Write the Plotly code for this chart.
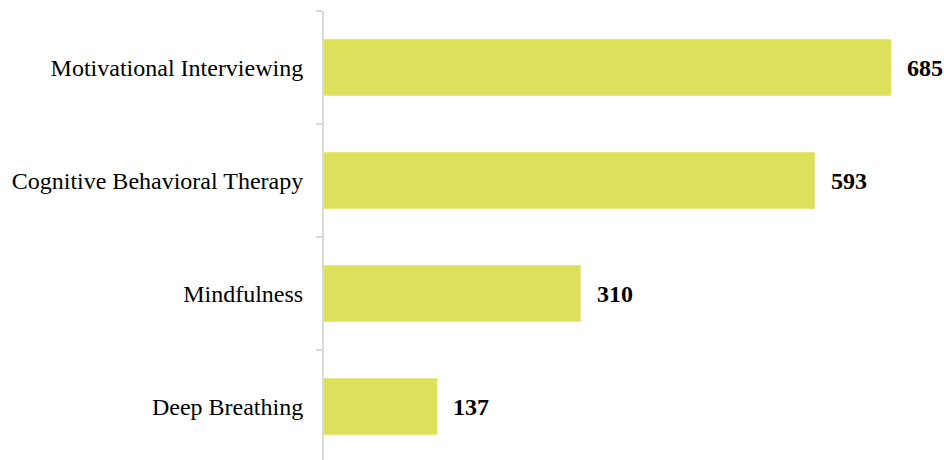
import plotly.graph_objects as go

categories = ["Motivational Interviewing", "Cognitive Behavioral Therapy", "Mindfulness", "Deep Breathing"]
values = [685, 593, 310, 137]

fig = go.Figure()
fig.add_trace(go.Bar(
    y=categories, x=values, orientation="h",
    marker=dict(color="#DCE05B", line=dict(width=0)),
    width=0.5,
))
for c, v in zip(categories, values):
    fig.add_annotation(x=v, y=c, text=f"<b>{v}</b>", showarrow=False,
                       xanchor="left", xshift=14,
                       font=dict(family="Liberation Serif", size=24, color="#000"))

fig.update_layout(
    width=944, height=460,
    margin=dict(l=324, r=0, t=11, b=0),
    plot_bgcolor="white", paper_bgcolor="white",
    showlegend=False,
    font=dict(family="Liberation Serif", size=24, color="#000"),
)
fig.update_xaxes(range=[0, 749], visible=False, showgrid=False, zeroline=False)
fig.update_yaxes(
    categoryorder="array", categoryarray=categories[::-1],
    autorange=False, range=[-0.473, 3.5],
    showline=True, linecolor="#D9D9D9", linewidth=2,
    ticks="outside", tickson="boundaries", ticklen=6, tickcolor="#D9D9D9", tickwidth=2,
    showgrid=False, ticklabelstandoff=14,
)
fig.write_html("out.html")
